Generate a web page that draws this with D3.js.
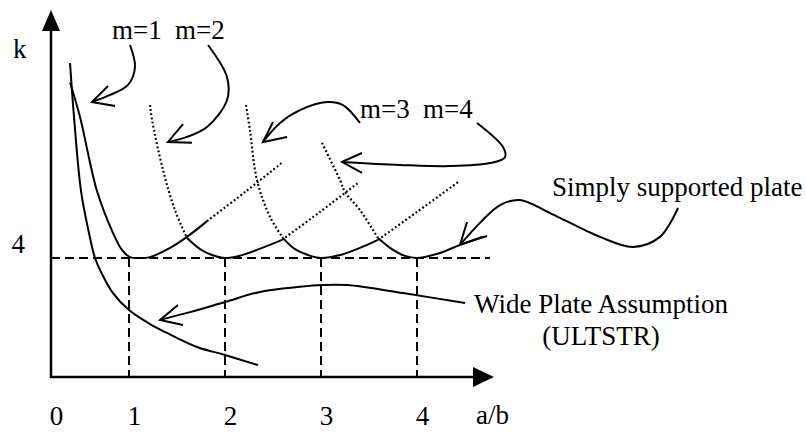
<!DOCTYPE html>
<html>
<head>
<meta charset="utf-8">
<script src="https://cdn.jsdelivr.net/npm/d3@7"></script>
<style>
    body { margin: 0; background: #fff; }
    text { font-family: "Liberation Serif", "Times New Roman", serif; font-size: 27px; fill: #000; }
</style>
</head>
<body>
<div id="window"></div>
<script>
// values, x = a/b, y = k
let x_ticks = [0, 1, 2, 3, 4];
let k_ticks = [4];
let k_line = 4;
let minima = [1, 2, 3, 4];

let wide_plate = [[0.244, 10.55], [0.295, 8.74], [0.385, 6.25], [0.487, 4.84], [0.564, 4.0], [0.641, 3.53],
    [0.795, 2.82], [1.0, 2.25], [1.219, 1.78], [1.396, 1.48], [1.708, 1.01], [2.0, 0.74], [2.344, 0.4]];

let m1_solid = [[0.244, 9.9], [0.372, 8.74], [0.59, 6.25], [0.795, 4.84], [0.91, 4.27], [1.01, 4.03],
    [1.115, 4.0], [1.219, 4.03], [1.427, 4.34], [1.604, 4.71], [1.813, 5.24]];
let m1_dotted = [[1.813, 5.24], [2.21, 6.22], [2.604, 7.23]];

let m2_dotted = [[1.219, 9.14], [1.24, 8.64], [1.354, 6.96], [1.479, 5.61], [1.604, 4.67]];
let m2_solid = [[1.604, 4.67], [1.74, 4.3], [1.865, 4.1], [2.0, 4.0], [2.146, 4.07], [2.354, 4.3], [2.594, 4.61]];
let m2_rise = [[2.594, 4.61], [2.99, 5.55], [3.396, 6.55]];

let m3_dotted = [[2.219, 9.14], [2.26, 8.3], [2.333, 6.62], [2.469, 5.38], [2.604, 4.67]];
let m3_solid = [[2.604, 4.67], [2.729, 4.3], [2.865, 4.1], [3.0, 4.0], [3.198, 4.1], [3.406, 4.34], [3.594, 4.61]];
let m3_rise = [[3.594, 4.61], [4.0, 5.55], [4.427, 6.55]];

let m4_dotted = [[3.01, 7.87], [3.198, 6.62], [3.25, 6.22], [3.406, 5.61], [3.594, 4.67]];
let m4_solid = [[3.594, 4.67], [3.75, 4.27], [3.875, 4.07], [4.0, 4.0], [4.24, 4.17], [4.448, 4.44], [4.729, 4.74]];

// annotation arrows: path points then the two arms of the head (tip is the last path point)
let arrows = [
    { path: [[1.01, 11.16], [1.0625, 10.42], [0.987, 9.82], [0.756, 9.48], [0.526, 9.24]], arms: [[0.731, 9.78], [0.821, 9.11]] },
    { path: [[1.823, 11.16], [2.021, 10.08], [2.021, 9.31], [1.8125, 8.4], [1.604, 8.07], [1.406, 7.9]], arms: [[1.5625, 8.5], [1.656, 7.87]] },
    { path: [[3.406, 8.54], [3.229, 9.14], [3.0625, 9.24], [2.781, 8.97], [2.573, 8.54], [2.396, 7.9]], arms: [[2.5, 8.57], [2.646, 8.07]] },
    { path: [[4.625, 8.54], [4.896, 7.73], [4.917, 7.39], [4.76, 7.19], [4.344, 7.09], [3.823, 7.13], [3.219, 7.23]], arms: [[3.427, 7.53], [3.427, 6.86]] },
    { path: [[6.719, 5.68], [6.531, 4.71], [6.25, 4.37], [5.906, 4.71], [5.385, 5.51], [5.073, 5.95], [4.865, 5.78], [4.656, 5.18], [4.448, 4.44]], arms: [[4.521, 5.21], [4.677, 4.71]] },
    { path: [[4.5, 2.49], [3.854, 2.82], [3.271, 3.09], [3.01, 3.09], [2.781, 3.03], [2.365, 2.86], [2.0, 2.52], [1.635, 2.18], [1.323, 1.92]], arms: [[1.51, 2.42], [1.5625, 1.75]] }
];

let labels = [
    { text: "m=1", x: 0.782, k: 11.36, anchor: "start" },
    { text: "m=2", x: 1.479, k: 11.36, anchor: "start" },
    { text: "m=3", x: 3.406, k: 8.7, anchor: "start" },
    { text: "m=4", x: 4.063, k: 8.7, anchor: "start" },
    { text: "Simply supported plate", x: 5.406, k: 6.08, anchor: "start" },
    { text: "Wide Plate Assumption", x: 5.917, k: 2.15, anchor: "middle" },
    { text: "(ULTSTR)", x: 5.917, k: 1.08, anchor: "middle" }
];

let w = 806, h = 432;
let svg = d3.select("#window").append("svg")
    .attr("width", w)
    .attr("height", h);

// a/b axis is not to scale left of 1 in the drawing
let x = d3.scaleLinear().domain([0, 1, 4]).range([51, 129, 417]);
let y = d3.scaleLinear().domain([0, 4]).range([377, 258]);

let line = d3.line().x(d => x(d[0])).y(d => y(d[1])).curve(d3.curveCatmullRom);
let straight = d3.line().x(d => x(d[0])).y(d => y(d[1]));

// dashed guides
svg.append("line")
    .attr("x1", x(0)).attr("x2", x(4.76))
    .attr("y1", y(k_line)).attr("y2", y(k_line))
    .attr("stroke", "#000").attr("stroke-width", 2).attr("stroke-dasharray", "9,5");
svg.selectAll(".guide").data(minima).enter().append("line")
    .attr("class", "guide")
    .attr("x1", d => x(d)).attr("x2", d => x(d))
    .attr("y1", y(k_line)).attr("y2", y(0))
    .attr("stroke", "#000").attr("stroke-width", 2).attr("stroke-dasharray", "9,5");

// axes
let x_axis = svg.append("g").attr("transform", "translate(0," + y(0) + ")")
    .call(d3.axisBottom(x).tickValues(x_ticks).tickSize(0).tickPadding(29).tickFormat(d3.format("d")));
x_axis.select(".domain").remove();
x_axis.selectAll("text").attr("dx", 5);
x_axis.attr("font-size", null).attr("font-family", null);

let y_axis = svg.append("g").attr("transform", "translate(" + x(0) + ",0)")
    .call(d3.axisLeft(y).tickValues(k_ticks).tickSize(0).tickPadding(26).tickFormat(d3.format("d")));
y_axis.select(".domain").remove();
y_axis.selectAll("text").attr("dy", "-0.19em");
y_axis.attr("font-size", null).attr("font-family", null);

svg.append("line")
    .attr("x1", x(0)).attr("x2", x(0)).attr("y1", y(0) + 1).attr("y2", 28)
    .attr("stroke", "#000").attr("stroke-width", 2.5);
svg.append("path")
    .attr("d", d3.line()([[x(0), 10], [x(0) - 9, 31], [x(0) + 9, 31]]) + "Z")
    .attr("fill", "#000");
svg.append("line")
    .attr("x1", x(0) - 1).attr("x2", 476).attr("y1", y(0)).attr("y2", y(0))
    .attr("stroke", "#000").attr("stroke-width", 2.5);
svg.append("path")
    .attr("d", d3.line()([[494, y(0)], [473, y(0) - 10], [473, y(0) + 10]]) + "Z")
    .attr("fill", "#000");

svg.append("text").attr("x", 476).attr("y", 424).text("a/b");
svg.append("text").attr("x", 13).attr("y", 58).text("k");

// buckling curves
let solid_sets = [wide_plate, m1_solid, m2_solid, m3_solid, m4_solid];
let dotted_sets = [m1_dotted, m2_dotted, m2_rise, m3_dotted, m3_rise, m4_dotted];

svg.selectAll(".solid").data(solid_sets).enter().append("path")
    .attr("class", "solid")
    .attr("d", line)
    .attr("fill", "none").attr("stroke", "#000").attr("stroke-width", 2);

svg.selectAll(".dotted").data(dotted_sets).enter().append("path")
    .attr("class", "dotted")
    .attr("d", line)
    .attr("fill", "none").attr("stroke", "#000").attr("stroke-width", 2.2)
    .attr("stroke-dasharray", "1.8,2.4");

// curved arrows with open heads
let arrow_g = svg.selectAll(".arrow").data(arrows).enter().append("g").attr("class", "arrow");
arrow_g.append("path")
    .attr("d", d => line(d.path))
    .attr("fill", "none").attr("stroke", "#000").attr("stroke-width", 2);
arrow_g.append("path")
    .attr("d", d => straight([d.arms[0], d.path[d.path.length - 1], d.arms[1]]))
    .attr("fill", "none").attr("stroke", "#000").attr("stroke-width", 2);

svg.selectAll(".label").data(labels).enter().append("text")
    .attr("class", "label")
    .attr("x", d => x(d.x))
    .attr("y", d => y(d.k))
    .attr("text-anchor", d => d.anchor)
    .text(d => d.text);
</script>
</body>
</html>
